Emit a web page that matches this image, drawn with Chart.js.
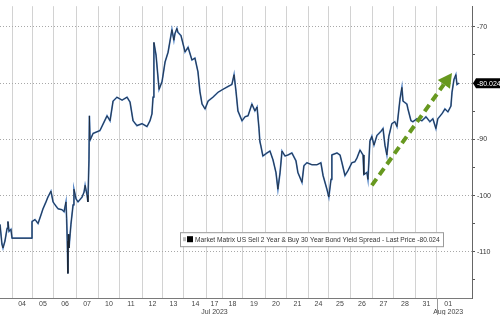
<!DOCTYPE html>
<html><head><meta charset="utf-8">
<script src="https://cdn.jsdelivr.net/npm/chart.js@4.4.0/dist/chart.umd.min.js"></script>
<style>html,body{margin:0;padding:0;background:#fff}canvas{display:block}</style>
</head><body>
<canvas id="c" width="500" height="315"></canvas>
<script>
// session time in trading days (0 = start of Jul 04 session)
const times = [
 -0.56,-0.47,-0.42,-0.33,-0.23,-0.19,-0.14,-0.05,0.0,
 0.93,0.93,1.07,1.21,1.35,1.44,1.58,1.67,1.81,1.91,2.0,2.14,2.33,2.42,2.51,
 2.54,2.57,2.60,2.62,2.65,2.74,2.84,2.88,2.98,3.07,3.26,3.35,3.40,3.49,3.53,
 3.58,3.60,3.63,3.77,4.09,4.42,4.56,4.70,4.88,5.12,5.35,5.49,5.63,5.81,6.05,6.28,6.42,6.51,
 6.56,6.60,6.70,6.84,6.98,7.12,7.26,7.44,7.53,7.58,7.67,7.72,7.86,8.05,8.19,8.37,8.51,8.65,
 8.74,8.84,8.98,9.12,9.35,9.58,9.81,10.05,10.23,10.33,10.42,10.51,10.70,10.84,10.98,
 11.16,11.30,11.40,11.49,11.53,11.58,11.67,11.86,12.0,12.14,12.28,12.37,12.47,12.56,12.70,
 12.84,13.02,13.21,13.30,13.49,13.58,13.72,13.95,14.19,14.37,14.47,14.65,14.74,14.84,14.88,
 15.12,15.26,15.35,15.49,15.63,15.81,15.95,16.05,16.19,16.33,16.37,16.51,16.56,16.65,16.74,
 16.84,16.98,17.16,17.26,17.35,17.44,17.53,17.67,17.81,17.91,18.05,18.14,18.19,18.37,18.42,
 18.56,18.65,18.84,19.07,19.26,19.44,19.58,19.72,19.81,20.0,20.14,20.28,20.42,20.47,20.56,
 20.65,20.70,20.79
];
// spread, bp
const spread = [
 -105.13,-108.61,-109.31,-108.09,-105.83,-104.61,-106.35,-106.0,-107.57,
 -107.57,-104.61,-104.26,-104.96,-103.39,-102.35,-101.13,-100.26,-99.22,-101.13,-101.65,-102.35,-102.52,-102.87,-101.13,
 -104.09,-108.09,-113.83,-106.87,-109.31,-105.13,-101.65,-98.87,-100.61,-101.13,-100.26,-99.39,-98.17,-99.91,-101.13,
 -93.65,-85.83,-90.17,-88.96,-88.44,-85.83,-86.70,-83.22,-82.52,-83.04,-82.52,-83.39,-86.70,-87.57,-87.22,-87.74,-86.70,-85.48,
 -82.52,-72.78,-75.04,-81.13,-79.74,-76.26,-74.52,-70.52,-72.40,-71.22,-70.30,-71.0,-71.57,-74.47,-73.65,-75.91,-75.57,-78.0,
 -81.48,-83.74,-84.61,-83.22,-82.52,-81.65,-81.13,-80.61,-80.26,-78.52,-81.48,-84.96,-86.70,-86.0,-85.83,
 -83.74,-84.96,-84.26,-88.09,-90.35,-91.22,-92.96,-92.43,-92.09,-93.65,-95.91,-98.87,-95.91,-92.09,-92.96,
 -92.78,-92.43,-93.83,-95.91,-97.65,-94.70,-94.17,-94.52,-94.52,-94.17,-96.43,-98.87,-100.26,-97.13,-92.78,
 -92.43,-92.78,-94.17,-96.43,-95.57,-94.17,-94.0,-93.30,-91.91,-92.78,-96.26,-95.91,-97.13,-90.35,-89.48,
 -91.04,-89.30,-88.61,-88.09,-91.04,-92.78,-89.48,-87.22,-86.87,-87.74,-82.87,-80.78,-83.22,-83.74,-84.61,
 -86.70,-86.87,-86.35,-86.70,-86.0,-86.87,-86.35,-88.09,-86.35,-85.48,-84.61,-85.13,-84.09,-81.65,-79.39,
 -78.52,-80.26,-80.024
];
// day session boundaries (trading days) and their labels
const dayBounds = [0,0.93,1.95,2.98,4.0,5.02,6.05,7.02,8.0,9.07,9.77,10.74,11.77,12.79,13.77,14.74,15.77,16.79,17.77,18.79,19.77,20.81];
const dayLabels = ['04','05','06','07','10','11','12','13','14','17','18','19','20','21','24','25','26','27','28','31','01'];
const monthLabels = {9:'Jul 2023', 20:'Aug 2023'};
const yMajor = [-110,-100,-90,-80,-70];
const yMinor = [-115,-105,-95,-85,-75];
const seriesName = 'Market Matrix US Sell 2 Year & Buy 30 Year Bond Yield Spread - Last Price';
const arrowFrom = {x:16.74, y:-98.2};
const arrowTo = {x:20.47, y:-78.2};

const pts = times.map((t,i)=>({x:t, y:spread[i]}));
const lastVal = spread[spread.length-1];
const FONT = '"Liberation Sans", Arial, sans-serif';

const overlay = {
  id:'overlay',
  afterDraw(chart){
    const ctx = chart.ctx, xs = chart.scales.x, ys = chart.scales.y, ca = chart.chartArea;
    ctx.save();
    // month separator below axis
    const ax = Math.round(xs.getPixelForValue(dayBounds[20]))+0.5;
    ctx.strokeStyle = '#9a9a9a'; ctx.lineWidth = 1;
    ctx.beginPath(); ctx.moveTo(ax, ca.bottom); ctx.lineTo(ax, chart.height); ctx.stroke();
    // green dashed arrow
    const x1 = xs.getPixelForValue(arrowFrom.x), y1 = ys.getPixelForValue(arrowFrom.y);
    const x2 = xs.getPixelForValue(arrowTo.x), y2 = ys.getPixelForValue(arrowTo.y);
    const L = Math.hypot(x2-x1, y2-y1), ux = (x2-x1)/L, uy = (y2-y1)/L;
    const hl = 14, hw = 7.5;
    const bx = x2-ux*hl, by = y2-uy*hl;
    ctx.strokeStyle = '#67981f'; ctx.fillStyle = '#67981f';
    ctx.lineWidth = 4; ctx.setLineDash([8,5]); ctx.lineCap='butt';
    ctx.beginPath(); ctx.moveTo(x1,y1); ctx.lineTo(bx,by); ctx.stroke();
    ctx.setLineDash([]);
    ctx.beginPath(); ctx.moveTo(x2,y2); ctx.lineTo(bx-uy*hw, by+ux*hw); ctx.lineTo(bx+uy*hw, by-ux*hw); ctx.closePath(); ctx.fill();
    // legend box
    const lx = ca.left+180, ly = ca.top+226, lw = 263, lh = 14;
    ctx.fillStyle = '#fff'; ctx.fillRect(lx, ly, lw, lh);
    ctx.strokeStyle = '#9a9a9a'; ctx.lineWidth = 1; ctx.strokeRect(lx+0.5, ly+0.5, lw, lh);
    ctx.fillStyle = '#bbb'; ctx.fillRect(lx+3, ly+5, 3, 4);
    ctx.fillStyle = '#000'; ctx.fillRect(lx+7, ly+4, 6, 6);
    const txt = seriesName+' '+lastVal.toFixed(3);
    let fs = 7; ctx.font = fs+'px '+FONT;
    const w = ctx.measureText(txt).width; fs = fs*245/w; ctx.font = fs.toFixed(2)+'px '+FONT;
    ctx.fillStyle = '#333'; ctx.textBaseline='middle'; ctx.textAlign='left';
    ctx.fillText(txt, lx+15, ly+lh/2+0.5);
    // last price tag
    const py = ys.getPixelForValue(lastVal);
    ctx.fillStyle = '#000';
    ctx.beginPath(); ctx.moveTo(ca.right+1, py); ctx.lineTo(ca.right+4, py-5); ctx.lineTo(chart.width, py-5);
    ctx.lineTo(chart.width, py+5); ctx.lineTo(ca.right+4, py+5); ctx.closePath(); ctx.fill();
    ctx.fillStyle = '#fff'; ctx.font = '7px '+FONT; ctx.textAlign='left';
    ctx.fillText(lastVal.toFixed(3), ca.right+5, py+0.5);
    ctx.restore();
  }
};

new Chart(document.getElementById('c'), {
  type:'line',
  data:{datasets:[
    {label:seriesName, data:pts, borderColor:'#1c2530', borderWidth:0.8, pointRadius:0, tension:0, order:0},
    {label:'blue', data:pts, borderColor:'#4d80c4', borderWidth:1.7, pointRadius:0, tension:0, order:1}
  ]},
  options:{
    responsive:false, animation:false, devicePixelRatio:1,
    layout:{padding:0},
    plugins:{legend:{display:false}, tooltip:{enabled:false}},
    scales:{
      x:{
        type:'linear', position:'bottom', min:-0.56, max:21.4,
        afterBuildTicks(s){
          const tk = dayBounds.slice(0,-1).map(v=>({value:v, kind:'b'}));
          dayLabels.forEach((l,i)=>tk.push({value:(dayBounds[i]+dayBounds[i+1])/2, kind:'c', idx:i}));
          tk.sort((a,b)=>a.value-b.value);
          s.ticks = tk;
        },
        afterFit(s){ s.height = 17; },
        ticks:{autoSkip:false, maxRotation:0, padding:2, color:'#444', font:{family:FONT, size:7, lineHeight:1.15},
          callback(v,i,tk){ const t = tk[i]; if(!t || t.kind!=='c') return ''; return monthLabels[t.idx] ? [dayLabels[t.idx], monthLabels[t.idx]] : dayLabels[t.idx]; }},
        grid:{color:c=>(c.tick && c.tick.kind==='b') ? '#d2d2d2' : 'rgba(0,0,0,0)', drawTicks:false, lineWidth:1},
        border:{display:true, color:'#7a7a7a'}
      },
      y:{
        type:'linear', position:'right', min:-118.2, max:-66.35,
        afterBuildTicks(s){ s.ticks = yMajor.concat(yMinor).sort((a,b)=>a-b).map(v=>({value:v})); },
        afterFit(s){ s.width = 28; },
        ticks:{padding:2, color:'#333', font:{family:FONT, size:7}, callback:v=> (v%10===0 ? String(v) : '')},
        grid:{color:c=>(c.tick && c.tick.value%10===0) ? '#a8a8a8' : 'rgba(0,0,0,0)', tickColor:'#555', tickLength:3, drawTicks:true, tickBorderDash:[0,0], lineWidth:1},
        border:{display:true, color:'#666', dash:[1,2]}
      }
    }
  },
  plugins:[overlay]
});
</script>
</body></html>
